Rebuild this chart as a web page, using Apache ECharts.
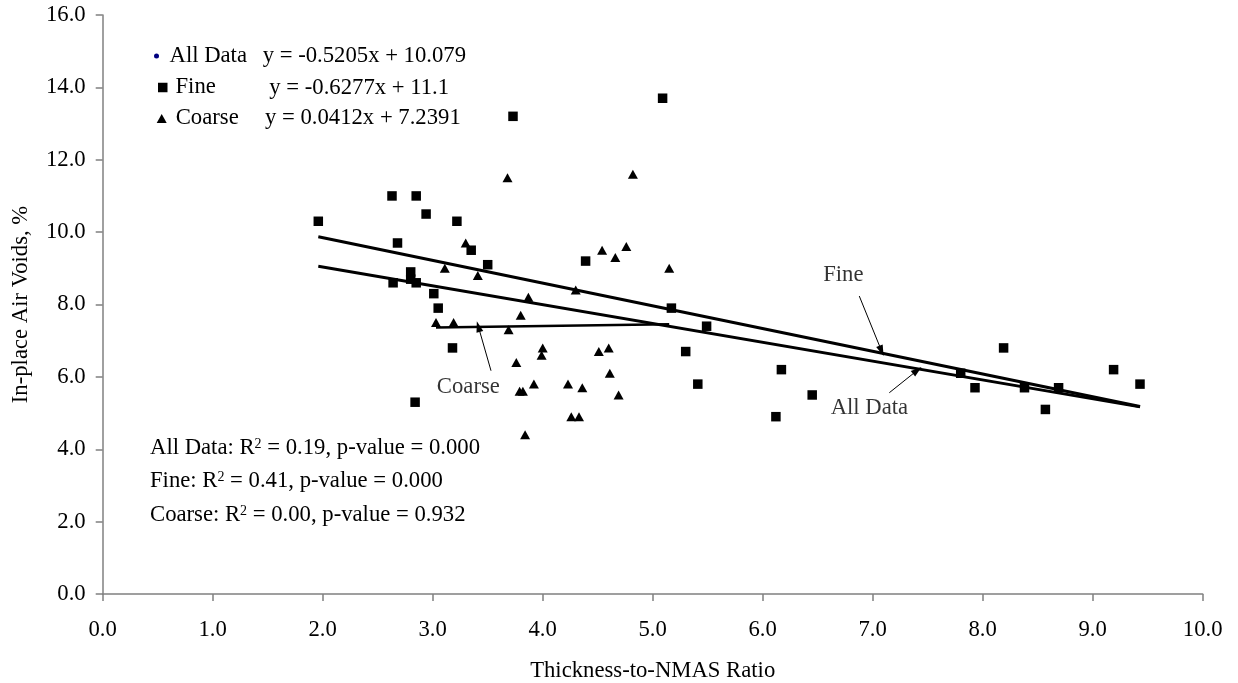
<!DOCTYPE html>
<html><head><meta charset="utf-8">
<script src="https://cdn.jsdelivr.net/npm/echarts@6/dist/echarts.min.js"></script>
<style>html,body{margin:0;padding:0;background:#fff}#c{width:1238px;height:683px}</style>
</head><body><div id="c"></div>
<script>
// ---- data ----
const fineX = [1.96, 2.63, 2.85, 2.94, 3.22, 2.68, 3.35, 3.50, 2.80, 2.80, 2.64, 2.85, 3.01, 3.05, 3.18, 2.84, 3.73, 5.09, 4.39, 5.17, 5.49, 5.30, 5.41, 6.17, 6.45, 6.12, 7.80, 7.93, 8.19, 8.38, 8.57, 8.69, 9.19, 9.43];
const fineY = [10.3, 11.0, 11.0, 10.5, 10.3, 9.7, 9.5, 9.1, 8.9, 8.7, 8.6, 8.6, 8.3, 7.9, 6.8, 5.3, 13.2, 13.7, 9.2, 7.9, 7.4, 6.7, 5.8, 6.2, 5.5, 4.9, 6.1, 5.7, 6.8, 5.7, 5.1, 5.7, 6.2, 5.8];
const coarseX = [3.30, 3.11, 3.41, 3.03, 3.19, 4.30, 3.87, 3.80, 5.15, 4.54, 4.66, 4.76, 3.69, 4.00, 3.99, 3.76, 4.51, 4.60, 4.61, 4.69, 3.79, 3.82, 3.92, 4.23, 4.36, 4.26, 4.33, 3.84, 3.68, 4.82];
const coarseY = [9.7, 9.0, 8.8, 7.5, 7.5, 8.4, 8.2, 7.7, 9.0, 9.5, 9.3, 9.6, 7.3, 6.8, 6.6, 6.4, 6.7, 6.8, 6.1, 5.5, 5.6, 5.6, 5.8, 5.8, 5.7, 4.9, 4.9, 4.4, 11.5, 11.6];
// trendline coefficients [slope, intercept] as printed on the chart
const allFit = [-0.5205, 10.079];
const fineFit = [-0.6277, 11.1];
const coarseFit = [0.0412, 7.2391];
const seriesNames = ['All Data', 'Fine', 'Coarse'];
const equations = ['y = -0.5205x + 10.079', 'y = -0.6277x + 11.1', 'y = 0.0412x + 7.2391'];
const stats = [['All Data', '0.19', '0.000'], ['Fine', '0.41', '0.000'], ['Coarse', '0.00', '0.932']];
const xAxisTitle = 'Thickness-to-NMAS Ratio';
const yAxisTitle = 'In-place Air Voids, %';

// ---- build ----
const FONT = 'Liberation Serif';
const FS = 22.7;
const zip = (xs, ys) => xs.map((x, i) => [x, ys[i]]);
const fineData = zip(fineX, fineY);
const coarseData = zip(coarseX, coarseY);
const allData = fineData.concat(coarseData);
function trend(fit, xs) {
  const a = Math.min(...xs), b = Math.max(...xs);
  return [[a, fit[0] * a + fit[1]], [b, fit[0] * b + fit[1]]];
}
const allXs = fineX.concat(coarseX);

const txt = () => ({fontFamily: FONT, fontSize: FS, color: '#000'});
const axisCommon = {
  axisLine: {show: true, lineStyle: {color: '#808080', width: 1.5}},
  axisTick: {show: true, length: 7, lineStyle: {color: '#808080', width: 1.5}},
  splitLine: {show: false},
  nameLocation: 'middle'
};

const chart = echarts.init(document.getElementById('c'), null, {renderer: 'canvas'});
const option = {
  backgroundColor: '#fff',
  animation: false,
  textStyle: {fontFamily: FONT},
  grid: {left: 102.7, right: 35.3, top: 15, bottom: 89, containLabel: false, outerBoundsMode: 'none'},
  xAxis: Object.assign({}, axisCommon, {
    type: 'value', min: 0, max: 10, interval: 1,
    name: xAxisTitle, nameGap: 66, nameTextStyle: txt(),
    axisLabel: Object.assign(txt(), {margin: 25, formatter: v => v.toFixed(1)})
  }),
  yAxis: Object.assign({}, axisCommon, {
    type: 'value', min: 0, max: 16, interval: 2,
    name: yAxisTitle, nameGap: 70, nameTextStyle: txt(),
    axisLabel: Object.assign(txt(), {margin: 17, formatter: v => v.toFixed(1)})
  }),
  legend: [
    {data: [{name: seriesNames[0], icon: 'circle'}], left: 154, top: 44.5, padding: 0, itemWidth: 16, itemHeight: 5,
     textStyle: txt(), selectedMode: false},
    {data: [{name: seriesNames[1], icon: 'rect'}], left: 158, top: 76, padding: 0, itemWidth: 9.5, itemHeight: 9.5,
     textStyle: Object.assign(txt(), {padding: [0, 0, 0, 3]}), selectedMode: false},
    {data: [{name: seriesNames[2], icon: 'triangle'}], left: 156.7, top: 107, padding: 0, itemWidth: 10, itemHeight: 9,
     textStyle: Object.assign(txt(), {padding: [0, 0, 0, 4]}), selectedMode: false}
  ],
  graphic: [
    {type: 'text', left: 262.7, top: 44.5, style: {text: equations[0], font: FS + 'px ' + FONT, fill: '#000'}},
    {type: 'text', left: 269.3, top: 76.5, style: {text: equations[1], font: FS + 'px ' + FONT, fill: '#000'}},
    {type: 'text', left: 265, top: 107, style: {text: equations[2], font: FS + 'px ' + FONT, fill: '#000'}}
  ].concat(stats.map((s, i) => ({
    type: 'text', left: 150, top: [437, 470, 504][i],
    style: {
      text: s[0] + ': R{sup|2} = ' + s[1] + ', p-value = ' + s[2],
      font: FS + 'px ' + FONT, fill: '#000',
      rich: {sup: {fontSize: 14, fontFamily: FONT, fill: '#000', verticalAlign: 'top', lineHeight: 14}}
    }
  }))),
  series: [
    {name: seriesNames[0], type: 'scatter', data: allData, symbol: 'circle', symbolSize: 3,
     itemStyle: {color: '#000080', opacity: 1}, z: 1, silent: true},
    {name: seriesNames[1], type: 'scatter', data: fineData, symbol: 'rect', symbolSize: 9.5,
     itemStyle: {color: '#000', opacity: 1}, z: 3, silent: true},
    {name: seriesNames[2], type: 'scatter', data: coarseData, symbol: 'triangle', symbolSize: [10, 9],
     itemStyle: {color: '#000', opacity: 1}, z: 3, silent: true},
    {name: 'All trend', type: 'line', data: trend(allFit, allXs), showSymbol: false, symbol: 'none',
     lineStyle: {color: '#000', width: 3}, z: 2, silent: true},
    {name: 'Fine trend', type: 'line', data: trend(fineFit, fineX), showSymbol: false, symbol: 'none',
     lineStyle: {color: '#000', width: 3}, z: 2, silent: true},
    {name: 'Coarse trend', type: 'line', data: trend(coarseFit, coarseX), showSymbol: false, symbol: 'none',
     lineStyle: {color: '#000', width: 2.5}, z: 2, silent: true},
    {name: 'annot', type: 'scatter', symbolSize: 1, itemStyle: {color: 'rgba(0,0,0,0)'}, silent: true, z: 4,
     data: [
       {value: [6.733, 8.81], label: {formatter: 'Fine'}},
       {value: [6.97, 5.13], label: {formatter: 'All Data'}},
       {value: [3.324, 5.73], label: {formatter: 'Coarse'}}
     ],
     label: Object.assign({show: true, position: 'inside'}, txt()),
     markLine: {
       silent: true, symbol: ['none', 'triangle'], symbolSize: [7, 11],
       lineStyle: {color: '#000', width: 1, type: 'solid'}, label: {show: false},
       data: [
         [{coord: [6.878, 8.234]}, {coord: [7.08, 6.72]}],
         [{coord: [7.151, 5.562]}, {coord: [7.405, 6.18]}],
         [{coord: [3.53, 6.17]}, {coord: [3.415, 7.39]}]
       ]
     }}
  ]
};
chart.setOption(option);
</script></body></html>
